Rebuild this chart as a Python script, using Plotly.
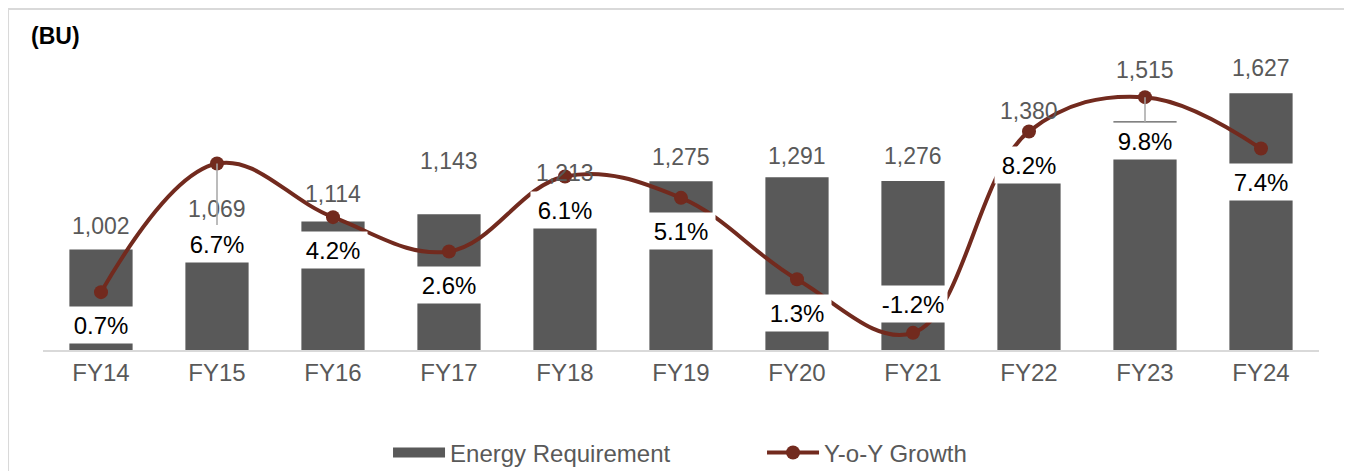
import plotly.graph_objects as go

years = ["FY14", "FY15", "FY16", "FY17", "FY18", "FY19", "FY20", "FY21", "FY22", "FY23", "FY24"]
energy_bu = [1002, 1069, 1114, 1143, 1213, 1275, 1291, 1276, 1380, 1515, 1627]
yoy_growth = [0.7, 6.7, 4.2, 2.6, 6.1, 5.1, 1.3, -1.2, 8.2, 9.8, 7.4]

# label placement (px), as hand-placed in the source chart
bar_label_shift = [24, 24, 28, 53, 24, 24, 21, 25, 44, 51, 25]
pct_label_shift = [-33, -80, -33, -34, -34, -33, -34, 29, -34, -44, -33]
pct_leader = [False, True, False, False, False, False, False, False, False, True, False]

BAR_COLOR = "#595959"
LINE_COLOR = "#722A1E"
FONT = "Arial, Liberation Sans, sans-serif"

fig = go.Figure()
fig.add_trace(go.Bar(x=years, y=energy_bu, name="Energy Requirement",
                     marker=dict(color=BAR_COLOR, line=dict(width=0)),
                     width=0.545, yaxis="y", hoverinfo="skip", showlegend=False))
fig.add_trace(go.Scatter(x=years, y=yoy_growth, name="Y-o-Y Growth", yaxis="y2",
                         mode="lines+markers",
                         line=dict(color=LINE_COLOR, width=4, shape="spline", smoothing=1.1),
                         marker=dict(color=LINE_COLOR, size=14),
                         hoverinfo="skip", showlegend=False))
# legend entries (wide swatch like the source)
fig.add_trace(go.Scatter(x=[None], y=[None], name="Energy Requirement", mode="lines",
                         line=dict(color=BAR_COLOR, width=12)))
fig.add_trace(go.Scatter(x=[None], y=[None], name="Y-o-Y Growth", mode="lines+markers",
                         line=dict(color=LINE_COLOR, width=4),
                         marker=dict(color=LINE_COLOR, size=14), yaxis="y2"))

annotations = []
for yr, v, s in zip(years, energy_bu, bar_label_shift):
    annotations.append(dict(x=yr, y=v, xref="x", yref="y", text=f"{v:,}",
                            showarrow=False, yanchor="middle", yshift=s,
                            font=dict(family=FONT, size=23, color=BAR_COLOR)))
for yr, g, s, lead in zip(years, yoy_growth, pct_label_shift, pct_leader):
    ann = dict(x=yr, y=g, xref="x", yref="y2", text=f"{g:.1f}%",
               bgcolor="white", width=64, height=32, borderpad=2,
               font=dict(family=FONT, size=24, color="black"))
    if lead:
        ann.update(showarrow=True, ax=0, ay=-s, arrowhead=0, arrowwidth=1.5,
                   arrowcolor="#A6A6A6")
    else:
        ann.update(showarrow=False, yanchor="middle", yshift=s)
    annotations.append(ann)
annotations.append(dict(x=-0.011, y=1.047, xref="paper", yref="paper", text="<b>(BU)</b>",
                        showarrow=False, xanchor="left", yanchor="middle",
                        font=dict(family=FONT, size=23, color="black")))

fig.update_layout(
    width=1344, height=463,
    margin=dict(l=35, r=33, t=42, b=121),
    paper_bgcolor="white", plot_bgcolor="white",
    font=dict(family=FONT, size=24, color=BAR_COLOR),
    xaxis=dict(range=[-0.5, 10.5], showgrid=False, showline=True, linecolor="#D9D9D9",
               linewidth=2, ticks="", tickfont=dict(size=24, color=BAR_COLOR)),
    yaxis=dict(range=[600, 1800], visible=False, showgrid=False),
    yaxis2=dict(range=[-2, 12], overlaying="y", visible=False, showgrid=False),
    showlegend=True,
    legend=dict(orientation="h", x=0.2704, xanchor="left", yref="container", y=0.039,
                yanchor="middle", font=dict(size=24, color=BAR_COLOR),
                itemwidth=52, entrywidth=307, traceorder="normal"),
    annotations=annotations,
    shapes=[dict(type="rect", xref="paper", yref="paper",
                 x0=-0.0274, x1=1.0204, y0=-0.45, y1=1.1367,
                 line=dict(color="#D9D9D9", width=2), layer="below")],
)

fig.write_html("out.html")
